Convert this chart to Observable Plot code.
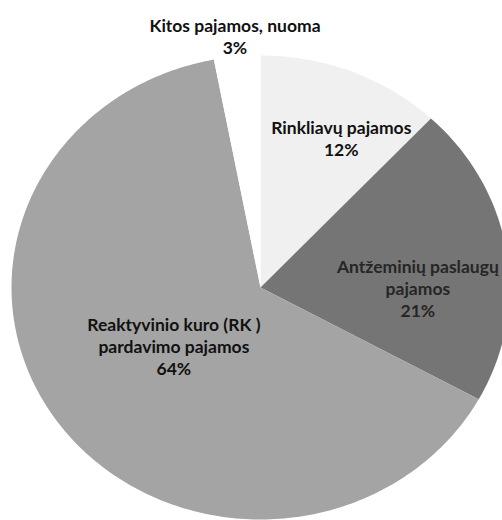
<!DOCTYPE html>
<html>
<head>
<meta charset="utf-8">
<script src="https://cdn.jsdelivr.net/npm/d3@7"></script>
<script src="https://cdn.jsdelivr.net/npm/@observablehq/plot@0.6"></script>
<style>
  html, body { margin: 0; padding: 0; background: #fff; overflow: hidden; }
  #chart { width: 502px; height: 520px; overflow: hidden; }
</style>
</head>
<body>
<div id="chart"></div>
<script>
// Data (clockwise from 12 o'clock)
const categories = [
  "Rinkliavų pajamos",
  "Antžeminių paslaugų pajamos",
  "Reaktyvinio kuro (RK ) pardavimo pajamos",
  "Kitos pajamos, nuoma"
];
const labelTexts = [
  "Rinkliavų pajamos",
  "Antžeminių paslaugų\npajamos",
  "Reaktyvinio kuro (RK )\npardavimo pajamos",
  "Kitos pajamos, nuoma"
];
const shares = [12, 21, 64, 3];

const rows = categories.map((c, i) => ({category: c, label: labelTexts[i], share: shares[i]}));
const arcs = d3.pie().sort(null).value(d => d.share)(rows);

// Slice outlines in unit (normalized) coordinates, derived from the pie layout
const slicePoints = arcs.flatMap(a => {
  const cat = a.data.category;
  const n = Math.max(2, Math.ceil((a.endAngle - a.startAngle) / (Math.PI / 180)));
  const pts = [{category: cat, x: 0, y: 0}];
  for (let i = 0; i <= n; ++i) {
    const t = a.startAngle + (a.endAngle - a.startAngle) * i / n;
    pts.push({category: cat, x: Math.sin(t), y: Math.cos(t)});
  }
  pts.push({category: cat, x: 0, y: 0});
  return pts;
});

// Label anchors inside/outside each slice (best-fit style layout)
const radial = s => s < 5 ? 1.09 : s > 50 ? 0.43 : s < 15 ? 0.72 : 0.632;
const along = s => (s > 5 && s < 50) ? 0.62 : 0.5;
const labels = arcs.map(a => {
  const m = a.startAngle + (a.endAngle - a.startAngle) * along(a.data.share);
  const r = radial(a.data.share);
  return {
    category: a.data.category,
    text: a.data.label + "\n" + a.data.share + "%",
    x: r * Math.sin(m),
    y: r * Math.cos(m),
    dark: a.data.share > 15 && a.data.share < 50
  };
});

const textOpts = {
  x: "x", y: "y", text: "text",
  fontFamily: "Lato", fontWeight: "bold", fontSize: 17.5, lineHeight: 1.26
};

const chart = Plot.plot({
  width: 502,
  height: 520,
  margin: 0,
  style: {background: "#fff"},
  x: {domain: [-1, 1], range: [11, 509], axis: null},
  y: {domain: [-1, 1], range: [519, 55], axis: null},
  color: {domain: categories, range: ["#f0f0f0", "#757575", "#a4a4a4", "#ffffff"]},
  marks: [
    Plot.line(slicePoints, {x: "x", y: "y", z: "category", fill: "category", stroke: "none"}),
    Plot.text(labels.filter(d => !d.dark), {...textOpts, fill: "#111"}),
    Plot.text(labels.filter(d => d.dark), {...textOpts, fill: "#262626"})
  ]
});
document.getElementById("chart").appendChild(chart);
</script>
</body>
</html>
